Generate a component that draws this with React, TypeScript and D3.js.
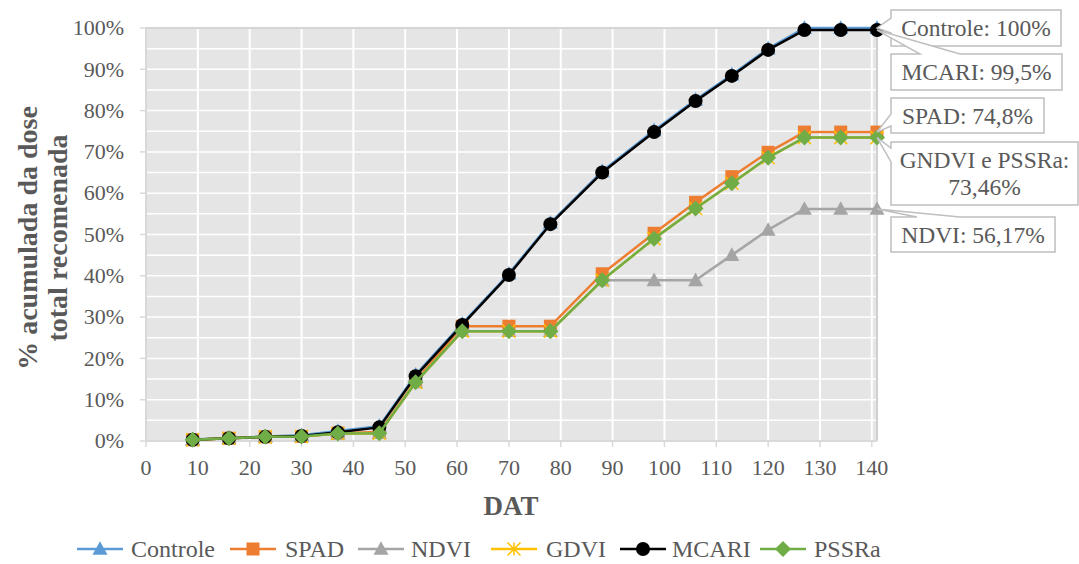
import React from "react";
import * as d3 from "d3";

const DAT = [9, 16, 23, 30, 37, 45, 52, 61, 70, 78, 88, 98, 106, 113, 120, 127, 134, 141];
const CONTROLE = [0.35, 0.7, 1.1, 1.4, 2.4, 3.6, 16.0, 28.4, 40.5, 52.8, 65.3, 75.2, 82.6, 88.7, 95.0, 100, 100, 100];
const SPAD = [0.3, 0.65, 1.0, 1.1, 1.9, 2.2, 14.5, 27.8, 27.8, 27.8, 40.5, 50.3, 57.8, 64.0, 69.9, 74.8, 74.8, 74.8];
const NDVI = [0.3, 0.65, 1.0, 1.1, 1.8, 1.9, 14.2, 26.6, 26.6, 26.6, 38.9, 38.9, 38.9, 45.0, 51.1, 56.17, 56.17, 56.17];
const GDVI = [0.3, 0.65, 1.0, 1.1, 1.8, 1.9, 14.2, 26.6, 26.6, 26.6, 38.9, 49.0, 56.3, 62.4, 68.6, 73.46, 73.46, 73.46];
const MCARI = [0.3, 0.65, 1.0, 1.2, 2.1, 3.3, 15.7, 28.1, 40.2, 52.5, 65.0, 74.8, 82.3, 88.4, 94.7, 99.5, 99.5, 99.5];
const PSSRA = [0.3, 0.65, 1.0, 1.1, 1.8, 1.9, 14.2, 26.6, 26.6, 26.6, 38.9, 49.0, 56.3, 62.4, 68.6, 73.46, 73.46, 73.46];

const X_TICKS = [0, 10, 20, 30, 40, 50, 60, 70, 80, 90, 100, 110, 120, 130, 140];
const Y_TICKS = [0, 10, 20, 30, 40, 50, 60, 70, 80, 90, 100];
const Y_MINOR = [5, 15, 25, 35, 45, 55, 65, 75, 85, 95];

type Series = { name: string; values: number[]; color: string; marker: string };
const SERIES: Series[] = [
  { name: "Controle", values: CONTROLE, color: "#5b9bd5", marker: "triangle" },
  { name: "SPAD", values: SPAD, color: "#ed7d31", marker: "square" },
  { name: "NDVI", values: NDVI, color: "#a5a5a5", marker: "triangle" },
  { name: "GDVI", values: GDVI, color: "#ffc000", marker: "star" },
  { name: "MCARI", values: MCARI, color: "#000000", marker: "circle" },
  { name: "PSSRa", values: PSSRA, color: "#70ad47", marker: "diamond" },
];

const CALLOUTS = [
  { lines: ["Controle: 100%"], series: "Controle", idx: 17 },
  { lines: ["MCARI: 99,5%"], series: "MCARI", idx: 17 },
  { lines: ["SPAD: 74,8%"], series: "SPAD", idx: 17 },
  { lines: ["GNDVI e PSSRa:", "73,46%"], series: "PSSRa", idx: 17 },
  { lines: ["NDVI: 56,17%"], series: "NDVI", idx: 17 },
];

const FONT = "'Liberation Serif', serif";
const TXT = "#595959";

function Marker({ type, color, x, y, s = 1 }: { type: string; color: string; x: number; y: number; s?: number }) {
  if (type === "circle") return <circle cx={x} cy={y} r={7 * s} fill={color} />;
  if (type === "square") return <rect x={x - 6.5 * s} y={y - 6.5 * s} width={13 * s} height={13 * s} fill={color} />;
  if (type === "triangle") {
    const h = 13 * s;
    return <path d={`M${x},${y - h * 0.6}L${x + 7.5 * s},${y + h * 0.45}L${x - 7.5 * s},${y + h * 0.45}Z`} fill={color} />;
  }
  if (type === "diamond") {
    const r = 8 * s;
    return <path d={`M${x},${y - r}L${x + r},${y}L${x},${y + r}L${x - r},${y}Z`} fill={color} />;
  }
  if (type === "star") {
    const r = 6.5 * s;
    return (
      <path
        d={`M${x - r},${y - r}L${x + r},${y + r}M${x + r},${y - r}L${x - r},${y + r}M${x},${y - r}L${x},${y + r}`}
        stroke={color}
        strokeWidth={1.5}
      />
    );
  }
  return null;
}

export default function App() {
  const W = 1079, H = 564;
  const x = d3.scaleLinear().domain([0, 141]).range([146, 877]);
  const y = d3.scaleLinear().domain([0, 100]).range([441, 28]);
  const line = d3
    .line<number>()
    .x((_, i) => x(DAT[i]))
    .y((v) => y(v));

  const pt = (name: string, i: number) => {
    const s = SERIES.find((d) => d.name === name)!;
    return [x(DAT[i]), y(s.values[i])];
  };

  const boxes = [
    { b: [891, 10, 1061, 46], wedge: { edge: "left", a: 18, c: 33 } },
    { b: [891, 54, 1062, 90], wedge: { edge: "top", a: 920, c: 960 } },
    { b: [891, 98, 1044, 133], wedge: { edge: "left", a: 114, c: 126 } },
    { b: [891, 142, 1078, 205], wedge: { edge: "left", a: 148, c: 162 } },
    { b: [891, 217, 1055, 252], wedge: { edge: "top", a: 917, c: 960 } },
  ];

  const calloutPath = (b: number[], w: { edge: string; a: number; c: number }, p: number[]) => {
    const [l, t, r, bt] = b;
    if (w.edge === "left") {
      return `M${l},${t}L${r},${t}L${r},${bt}L${l},${bt}L${l},${w.c}L${p[0]},${p[1]}L${l},${w.a}Z`;
    }
    return `M${l},${t}L${w.a},${t}L${p[0]},${p[1]}L${w.c},${t}L${r},${t}L${r},${bt}L${l},${bt}Z`;
  };

  const legendItems = [
    { x: 77, tx: 131 },
    { x: 230, tx: 285 },
    { x: 358, tx: 411 },
    { x: 491, tx: 546 },
    { x: 620, tx: 672 },
    { x: 760, tx: 814 },
  ];

  return (
    <svg width={W} height={H} style={{ display: "block", position: "absolute", left: 0, top: 0 }} fontFamily={FONT}>
      <rect x={0} y={0} width={W} height={H} fill="#ffffff" />
      <rect x={x(0)} y={y(100)} width={x(141) - x(0)} height={y(0) - y(100)} fill="#e5e5e5" />
      {[...Y_TICKS.slice(1), ...Y_MINOR].map((t) => (
        <line key={"h" + t} x1={x(0)} x2={x(141)} y1={y(t)} y2={y(t)} stroke="#ffffff" strokeWidth={1.5} />
      ))}
      {X_TICKS.slice(1).map((t) => (
        <line key={"v" + t} x1={x(t)} x2={x(t)} y1={y(0)} y2={y(100)} stroke="#ffffff" strokeWidth={2} />
      ))}
      <line x1={x(0)} x2={x(141)} y1={y(100)} y2={y(100)} stroke="#c8c8c8" strokeWidth={1.5} />
      <line x1={x(141)} x2={x(141)} y1={y(100)} y2={y(0)} stroke="#d0d0d0" strokeWidth={2} />
      <line x1={x(0)} x2={x(0)} y1={y(100)} y2={y(0)} stroke="#d9d9d9" strokeWidth={2} />
      <line x1={x(0)} x2={x(141)} y1={y(0)} y2={y(0)} stroke="#d9d9d9" strokeWidth={2} />
      {Y_TICKS.map((t) => (
        <line key={"yt" + t} x1={x(0) - 6} x2={x(0)} y1={y(t)} y2={y(t)} stroke="#d9d9d9" strokeWidth={1.5} />
      ))}
      {X_TICKS.map((t) => (
        <line key={"xt" + t} x1={x(t)} x2={x(t)} y1={y(0)} y2={y(0) + 6} stroke="#d9d9d9" strokeWidth={1.5} />
      ))}
      {Y_TICKS.map((t) => (
        <text key={"yl" + t} x={124} y={y(t)} dy="0.33em" textAnchor="end" fontSize={22} fill={TXT}>
          {t}%
        </text>
      ))}
      {X_TICKS.map((t) => (
        <text key={"xl" + t} x={x(t)} y={475} textAnchor="middle" fontSize={22} fill={TXT}>
          {t}
        </text>
      ))}
      <text x={511} y={515} textAnchor="middle" fontSize={27} fontWeight="bold" fill={TXT}>
        DAT
      </text>
      <text transform="translate(37,238) rotate(-90)" textAnchor="middle" fontSize={28} fontWeight="bold" fill={TXT}>
        % acumulada da dose
      </text>
      <text transform="translate(67,238) rotate(-90)" textAnchor="middle" fontSize={28} fontWeight="bold" fill={TXT}>
        total recomenada
      </text>
      {SERIES.map((s) => (
        <g key={s.name}>
          <path d={line(s.values)!} fill="none" stroke={s.color} strokeWidth={2.5} strokeLinejoin="round" />
          {s.values.map((v, i) => (
            <Marker key={i} type={s.marker} color={s.color} x={x(DAT[i])} y={y(v)} />
          ))}
        </g>
      ))}
      {CALLOUTS.map((c, k) => {
        const bx = boxes[k];
        const p = pt(c.series, c.idx);
        const [l, t, r, bt] = bx.b;
        const cx = (l + r) / 2;
        const cy = (t + bt) / 2;
        return (
          <g key={k}>
            <path d={calloutPath(bx.b, bx.wedge, p)} fill="#ffffff" stroke="#bfbfbf" strokeWidth={1.5} />
            {c.lines.map((ln, j) => (
              <text
                key={j}
                x={cx}
                y={cy + (j - (c.lines.length - 1) / 2) * 27}
                dy="0.35em"
                textAnchor="middle"
                fontSize={23.5}
                fill={TXT}
              >
                {ln}
              </text>
            ))}
          </g>
        );
      })}
      {SERIES.map((s, i) => {
        const li = legendItems[i];
        const ly = 549;
        return (
          <g key={"lg" + s.name}>
            <line x1={li.x} x2={li.x + 46} y1={ly} y2={ly} stroke={s.color} strokeWidth={2.5} />
            <Marker type={s.marker} color={s.color} x={li.x + 23} y={ly} />
            <text x={li.tx} y={ly} dy="0.35em" fontSize={24} fill={TXT}>
              {s.name}
            </text>
          </g>
        );
      })}
    </svg>
  );
}
